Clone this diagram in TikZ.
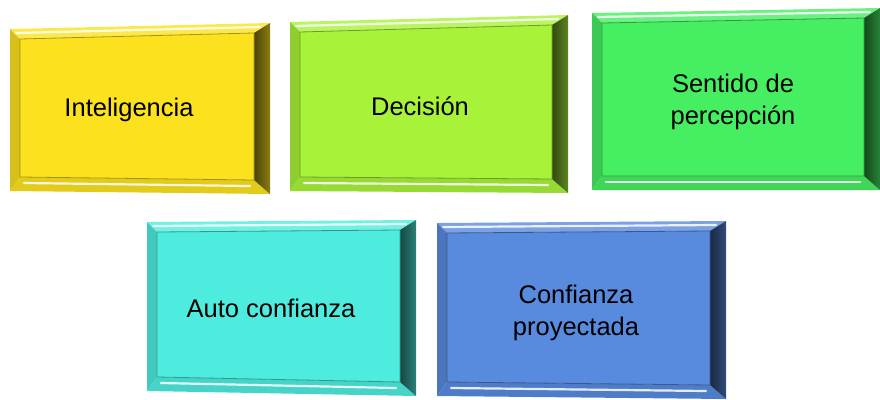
\documentclass[tikz,border=0pt]{standalone}
\usepackage{fontspec}
\setmainfont{Liberation Sans}
\usetikzlibrary{calc}
\definecolor{cYellow}{RGB}{252,226,30}
\definecolor{cLime}{RGB}{168,242,58}
\definecolor{cGreen}{RGB}{70,238,98}
\definecolor{cCyan}{RGB}{78,236,222}
\definecolor{cBlue}{RGB}{88,138,222}
\tikzset{
  lbl/.style={align=center, text=black, font=\fontsize{25.5}{32}\selectfont, inner sep=0pt},
  hilite/.style={white, line width=2.2pt, line cap=round, opacity=0.85}
}
% #1 name, #2 x0, #3 yTL, #4 x1, #5 yTR, #6 yBR, #7 yBL, #8 colour
\newcommand{\bevelbox}[8]{%
  \coordinate (#1-tl) at (#2,#3);
  \coordinate (#1-tr) at (#4,#5);
  \coordinate (#1-br) at (#4,#6);
  \coordinate (#1-bl) at (#2,#7);
  \coordinate (#1-itl) at ($(#1-tl)+(10,10)$);
  \coordinate (#1-itr) at ($(#1-tr)+(-16,10)$);
  \coordinate (#1-ibr) at ($(#1-br)+(-16,-14)$);
  \coordinate (#1-ibl) at ($(#1-bl)+(10,-14)$);
  \fill[#8!80!white] (#1-tl)--(#1-tr)--(#1-itr)--(#1-itl)--cycle;
  \fill[#8!85!black] (#1-tl)--(#1-itl)--(#1-ibl)--(#1-bl)--cycle;
  \fill[#8!90!black] (#1-bl)--(#1-ibl)--(#1-ibr)--(#1-br)--cycle;
  \shade[left color=#8!30!black, right color=#8!55!black] (#1-tr)--(#1-br)--(#1-ibr)--(#1-itr)--cycle;
  \fill[#8, draw=#8!65!black, line width=0.8pt] (#1-itl)--(#1-itr)--(#1-ibr)--(#1-ibl)--cycle;
  \draw[hilite] ($(#1-tl)+(6,4)$) -- ($(#1-tr)+(-10,4)$);
  \draw[hilite] ($(#1-bl)+(14,-8)$) -- ($(#1-br)+(-20,-8)$);
}
\begin{document}
\begin{tikzpicture}[x=1pt,y=-1pt]
\useasboundingbox (0,0) rectangle (880,399);
\bevelbox{b1}{10}{29}{270}{23}{194}{191}{cYellow}
\bevelbox{b2}{290}{22}{568}{15}{193}{191}{cLime}
\bevelbox{b3}{592}{13}{880}{8}{190}{190}{cGreen}
\bevelbox{b4}{147}{222}{416}{220}{396}{391}{cCyan}
\bevelbox{b5}{437}{223}{726}{221}{399}{396}{cBlue}
\node[lbl] (intel) at (129,110) {Inteligencia};
\node[lbl] (decis) at (420,106) {Decisión};
\node[lbl] (sent) at (733,102) {Sentido de\\percepción};
\node[lbl] (auto) at (271,308) {Auto confianza};
\node[lbl] (conf) at (576,313) {Confianza\\proyectada};
\end{tikzpicture}
\end{document}
